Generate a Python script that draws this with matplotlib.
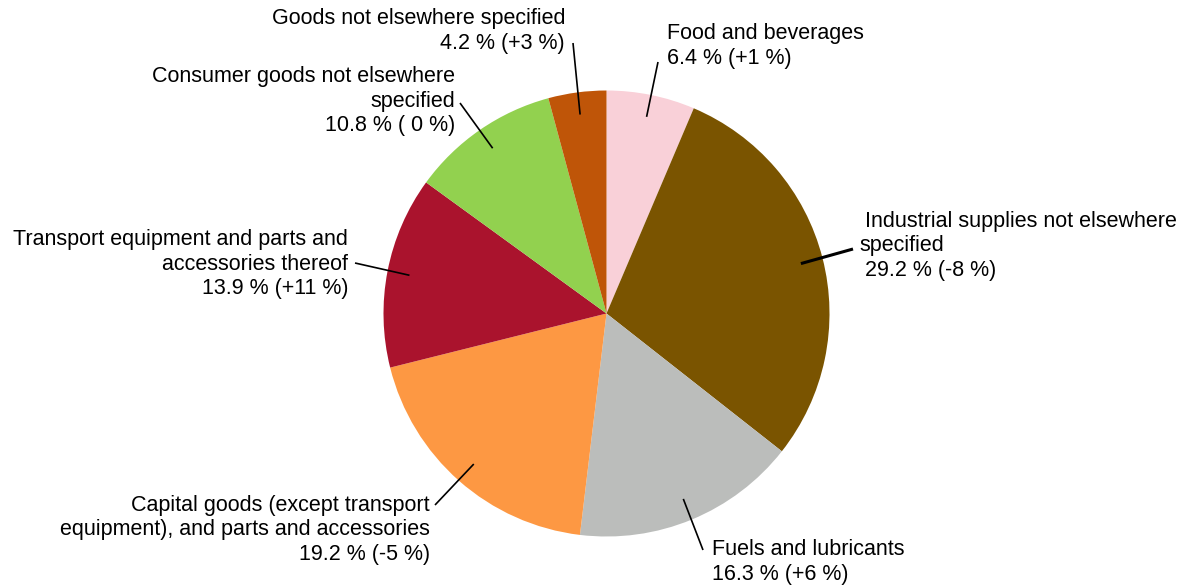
import numpy as np
import matplotlib
matplotlib.use('Agg')
import matplotlib.pyplot as plt

plt.rcParams['font.family'] = ['Liberation Sans', 'DejaVu Sans']

# shares of imports, clockwise from 12 o'clock
categories = ['Food and beverages',
              'Industrial supplies not elsewhere\nspecified',
              'Fuels and lubricants',
              'Capital goods (except transport\nequipment), and parts and accessories',
              'Transport equipment and parts and\naccessories thereof',
              'Consumer goods not elsewhere\nspecified',
              'Goods not elsewhere specified']
shares = [6.4, 29.2, 16.3, 19.2, 13.9, 10.8, 4.2]
changes = ['+1', '-8', '+6', '-5', '+11', ' 0', '+3']
colors = ['#F9D0D8', '#7A5400', '#BBBDBB', '#FD9843', '#AA132D', '#92D14F', '#BF5508']

W, H = 1188, 587
fig = plt.figure(figsize=(W / 100, H / 100), dpi=100)
ax = fig.add_axes([0, 0, 1, 1])

cx, cy, R = 606.5, H - 313.5, 223
wedges, _ = ax.pie(shares, colors=colors, startangle=90, counterclock=False,
                   center=(cx, cy), radius=R, frame=True,
                   wedgeprops=dict(linewidth=0))
ax.set_xlim(0, W)
ax.set_ylim(0, H)
ax.axis('off')

# label layout in pixels (y from top): line end, text anchor, alignment
layout = [
    ((658, 62), (667, 46), 'left', 1.2),
    ((853, 249), (859, 246), 'left', 2.2),
    ((703, 550), (712, 562), 'left', 1.2),
    ((435, 505), (430, 530), 'right', 1.2),
    ((355, 263), (348, 264), 'right', 1.2),
    ((460, 103), (455, 101), 'right', 1.2),
    ((573, 43), (565, 31), 'right', 1.2),
]

for w, cat, s, ch, (end, pos, ha, lw) in zip(wedges, categories, shares, changes, layout):
    mid = np.deg2rad((w.theta1 + w.theta2) / 2)
    x0 = cx + 0.9 * R * np.cos(mid)
    y0 = cy + 0.9 * R * np.sin(mid)
    ax.plot([x0, end[0]], [y0, H - end[1]], color='black', lw=lw, solid_capstyle='butt')
    label = f'{cat}\n{s} % ({ch} %)'
    if cat.startswith('Industrial'):
        label = f' {cat}\n {s} % ({ch} %)'
    ax.text(pos[0], H - pos[1], label, ha=ha, va='center', multialignment=ha,
            fontsize=15.5, color='black', linespacing=1.22)

fig.savefig('out.png', dpi=100)
